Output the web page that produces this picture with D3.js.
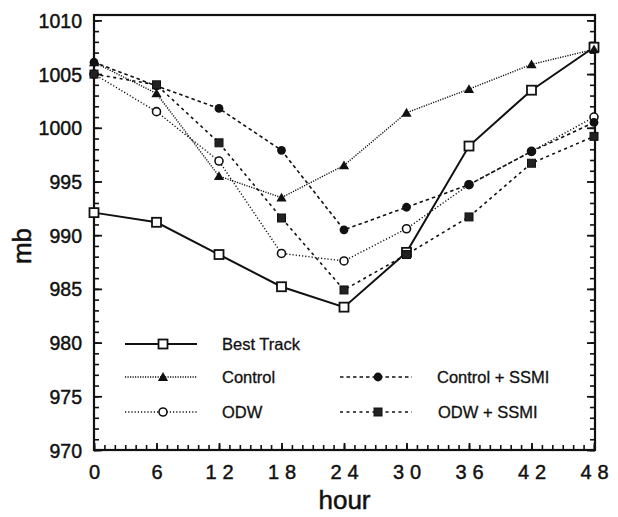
<!DOCTYPE html>
<html>
<head>
<meta charset="utf-8">
<script src="https://cdn.jsdelivr.net/npm/d3@7"></script>
<style>
  body { margin: 0; background: #fff; }
  text { font-family: "Liberation Sans", Arial, sans-serif; fill: #111; }
</style>
</head>
<body>
<div id="chart"></div>
<script>
const width = 618, height = 517, margin = {top: 15, right: 20, bottom: 67, left: 94};

// data (sea level pressure, mb)
const hours = [0, 6, 12, 18, 24, 30, 36, 42, 48];
const bestTrack   = [992.1, 991.2, 988.2, 985.2, 983.3, 988.4, 998.3, 1003.5, 1007.5];
const control     = [1006.1, 1003.2, 995.5, 993.5, 996.5, 1001.4, 1003.6, 1005.9, 1007.3];
const odw         = [1005.0, 1001.5, 996.9, 988.3, 987.6, 990.6, 994.7, 997.8, 1001.0];
const controlSsmi = [1006.1, 1003.9, 1001.8, 997.9, 990.5, 992.6, 994.7, 997.8, 1000.5];
const odwSsmi     = [1005.0, 1004.0, 998.6, 991.6, 984.9, 988.2, 991.7, 996.7, 999.2];

const xTicks = [0, 6, 12, 18, 24, 30, 36, 42, 48];
const yTicks = [970, 975, 980, 985, 990, 995, 1000, 1005, 1010];

const seriesNames = ["Best Track", "Control", "ODW", "Control + SSMI", "ODW + SSMI"];

const series = [
  {name: seriesNames[0], values: bestTrack,   dash: null,      sw: 2,   marker: "openSquare"},
  {name: seriesNames[1], values: control,     dash: "1.2,1.3", sw: 1.4, marker: "triangle"},
  {name: seriesNames[2], values: odw,         dash: "1.2,2",   sw: 1.4, marker: "openCircle"},
  {name: seriesNames[3], values: controlSsmi, dash: "3.5,3",   sw: 1.6, marker: "dot"},
  {name: seriesNames[4], values: odwSsmi,     dash: "3,3.5",   sw: 1.6, marker: "square"}
];

const svg = d3.select("#chart")
  .append("svg")
  .attr("width", width)
  .attr("height", height);

const x = d3.scaleLinear()
    .domain([0, 48])
    .range([margin.left, width - margin.right - 4]);

const y = d3.scaleLinear()
    .domain([970, 1010.5])
    .range([height - margin.bottom, margin.top]);

const x0 = x.range()[0], x1 = x.range()[1] + 1;
const yb = y.range()[0], yt = y.range()[1];

// minor ticks (inward)
svg.append("g")
  .attr("transform", `translate(0,${yb})`)
  .call(d3.axisBottom(x).tickValues(d3.range(0, 49)).tickSize(-5).tickFormat(""))
  .call(g => g.select(".domain").remove())
  .call(g => g.selectAll("line").attr("stroke", "#111").attr("stroke-width", 1.6));

svg.append("g")
  .attr("transform", `translate(${x0},0)`)
  .call(d3.axisLeft(y).tickValues(d3.range(970, 1011)).tickSize(-5).tickFormat(""))
  .call(g => g.select(".domain").remove())
  .call(g => g.selectAll("line").attr("stroke", "#111").attr("stroke-width", 1.6));

svg.append("g")
  .attr("transform", `translate(${x1},0)`)
  .call(d3.axisRight(y).tickValues(d3.range(970, 1011)).tickSize(-5).tickFormat(""))
  .call(g => g.select(".domain").remove())
  .call(g => g.selectAll("line").attr("stroke", "#111").attr("stroke-width", 1.6));

// major ticks + labels
svg.append("g")
  .attr("transform", `translate(0,${yb})`)
  .call(d3.axisBottom(x).tickValues(xTicks).tickSize(-7).tickPadding(15))
  .call(g => g.select(".domain").remove())
  .call(g => g.selectAll("line").attr("stroke", "#111").attr("stroke-width", 1.8))
  .call(g => g.selectAll("text")
      .attr("font-size", 20)
      .attr("font-family", "Liberation Sans, Arial, sans-serif")
      .attr("letter-spacing", 6)
      .attr("dx", 3)
      .attr("fill", "#111")
      .attr("stroke", "#111")
      .attr("stroke-width", 0.45));

svg.append("g")
  .attr("transform", `translate(${x0},0)`)
  .call(d3.axisLeft(y).tickValues(yTicks).tickSize(-8).tickPadding(12).tickFormat(d3.format("d")))
  .call(g => g.select(".domain").remove())
  .call(g => g.selectAll("line").attr("stroke", "#111").attr("stroke-width", 1.8))
  .call(g => g.selectAll("text")
      .attr("font-size", 19.5)
      .attr("font-family", "Liberation Sans, Arial, sans-serif")
      .attr("dy", "0.36em")
      .attr("fill", "#111")
      .attr("stroke", "#111")
      .attr("stroke-width", 0.45));

svg.append("g")
  .attr("transform", `translate(${x1},0)`)
  .call(d3.axisRight(y).tickValues(yTicks).tickSize(-8).tickFormat(""))
  .call(g => g.select(".domain").remove())
  .call(g => g.selectAll("line").attr("stroke", "#111").attr("stroke-width", 1.8));

// frame
svg.append("rect")
  .attr("x", x0).attr("y", yt)
  .attr("width", x1 - x0).attr("height", yb - yt)
  .attr("fill", "none")
  .attr("stroke", "#111")
  .attr("stroke-width", 2.2);

// axis titles
svg.append("text")
  .attr("x", (x0 + x1) / 2)
  .attr("y", 509)
  .attr("text-anchor", "middle")
  .attr("font-size", 26)
  .attr("stroke", "#111")
  .attr("stroke-width", 0.5)
  .text("hour");

svg.append("text")
  .attr("transform", `translate(31,246) rotate(-90)`)
  .attr("text-anchor", "middle")
  .attr("font-size", 26)
  .attr("stroke", "#111")
  .attr("stroke-width", 0.5)
  .text("mb");

// markers
function drawMarker(g, type, cx, cy) {
  if (type === "openSquare") {
    g.append("rect").attr("x", cx - 4.5).attr("y", cy - 4.5).attr("width", 9).attr("height", 9)
      .attr("fill", "#fff").attr("stroke", "#111").attr("stroke-width", 1.8);
  } else if (type === "square") {
    g.append("rect").attr("x", cx - 4).attr("y", cy - 4).attr("width", 8).attr("height", 8)
      .attr("fill", "#222").attr("stroke", "#111").attr("stroke-width", 1);
  } else if (type === "openCircle") {
    g.append("circle").attr("cx", cx).attr("cy", cy).attr("r", 4)
      .attr("fill", "#fff").attr("stroke", "#111").attr("stroke-width", 1.6);
  } else if (type === "dot") {
    g.append("circle").attr("cx", cx).attr("cy", cy).attr("r", 4.4)
      .attr("fill", "#111");
  } else if (type === "triangle") {
    g.append("path")
      .attr("d", d3.symbol().type(d3.symbolTriangle).size(45)())
      .attr("transform", `translate(${cx},${cy + 1})`)
      .attr("fill", "#111");
  }
}

const lineGen = d3.line()
  .x((d, i) => x(hours[i]))
  .y(d => y(d));

series.forEach(s => {
  svg.append("path")
    .datum(s.values)
    .attr("fill", "none")
    .attr("stroke", "#111")
    .attr("stroke-width", s.sw)
    .attr("stroke-dasharray", s.dash)
    .attr("d", lineGen);
});

series.forEach(s => {
  const g = svg.append("g");
  s.values.forEach((v, i) => drawMarker(g, s.marker, x(hours[i]), y(v)));
});

// legend
const legendPos = [
  {lx: 125, tx: 222, ly: 344},
  {lx: 125, tx: 222, ly: 377},
  {lx: 125, tx: 222, ly: 412},
  {lx: 340, tx: 437, ly: 377},
  {lx: 340, tx: 438, ly: 412}
];

series.forEach((s, i) => {
  const p = legendPos[i];
  const g = svg.append("g");
  g.append("line")
    .attr("x1", p.lx).attr("x2", p.lx + 72)
    .attr("y1", p.ly).attr("y2", p.ly)
    .attr("stroke", "#111")
    .attr("stroke-width", s.sw)
    .attr("stroke-dasharray", s.dash);
  drawMarker(g, s.marker, p.lx + 38, p.ly);
  g.append("text")
    .attr("x", p.tx)
    .attr("y", p.ly)
    .attr("dy", "0.36em")
    .attr("font-size", 16.5)
    .attr("stroke", "#111")
    .attr("stroke-width", 0.3)
    .text(s.name);
});
</script>
</body>
</html>
